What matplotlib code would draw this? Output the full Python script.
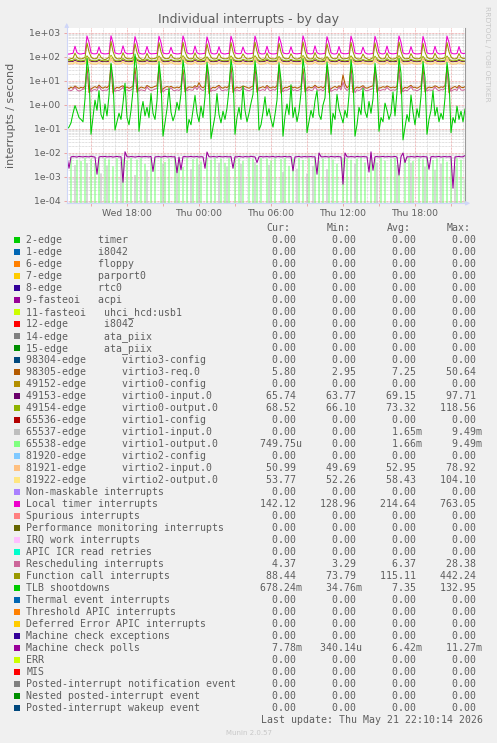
import matplotlib
matplotlib.use('Agg')
import matplotlib.pyplot as plt
import matplotlib.dates as mdates
from matplotlib.patches import Rectangle
from matplotlib.ticker import LogLocator, FuncFormatter, NullFormatter
import numpy as np
import pandas as pd

W, H = 497, 743
FG = '#5e5e5e'

# 10 minute samples, Wed 13:00 -> Thu 22:10
times = pd.date_range('2026-05-20 13:00', periods=200, freq='10min')

# each row = 2 hours (12 samples), last row partial
local_timer = [
    [134, 132, 138, 141, 280, 152, 136, 133, 139, 142, 748, 410],
    [151, 137, 135, 140, 265, 148, 138, 134, 137, 140, 763, 395],
    [149, 139, 134, 142, 290, 155, 137, 136, 138, 143, 705, 380],
    [147, 136, 133, 139, 275, 150, 135, 137, 140, 141, 730, 400],
    [150, 138, 136, 141, 255, 146, 139, 134, 136, 144, 752, 420],
    [152, 137, 135, 140, 285, 151, 136, 135, 138, 142, 690, 370],
    [148, 136, 134, 143, 270, 149, 137, 133, 139, 141, 735, 405],
    [150, 138, 137, 140, 262, 153, 135, 136, 138, 143, 745, 390],
    [149, 135, 134, 139, 280, 150, 137, 134, 136, 140, 712, 385],
    [151, 139, 136, 142, 268, 147, 138, 135, 139, 142, 758, 415],
    [148, 137, 135, 140, 290, 152, 136, 134, 137, 141, 702, 375],
    [150, 136, 133, 141, 275, 149, 139, 136, 138, 144, 738, 400],
    [147, 138, 136, 139, 260, 151, 135, 133, 137, 140, 725, 392],
    [152, 137, 134, 142, 284, 148, 138, 135, 139, 143, 750, 410],
    [149, 136, 135, 140, 270, 150, 137, 134, 136, 141, 718, 388],
    [150, 138, 136, 139, 278, 152, 136, 135, 138, 142, 742, 402],
    [151, 137, 135, 140, 272, 149, 139, 142.12],
]
function_call = [
    [84, 78, 86, 88, 145, 98, 85, 83, 87, 95, 380, 165],
    [102, 86, 84, 89, 138, 96, 84, 76, 86, 97, 442, 170],
    [100, 85, 83, 87, 150, 99, 86, 84, 85, 94, 360, 155],
    [98, 84, 74, 88, 142, 95, 83, 85, 87, 96, 395, 162],
    [101, 86, 85, 89, 130, 94, 85, 83, 84, 98, 410, 168],
    [103, 85, 84, 87, 148, 97, 84, 77, 86, 95, 350, 150],
    [99, 84, 83, 88, 140, 96, 86, 84, 85, 94, 400, 165],
    [100, 86, 85, 90, 135, 98, 83, 84, 87, 96, 415, 172],
    [97, 83, 78, 86, 146, 95, 85, 83, 84, 93, 370, 158],
    [101, 85, 84, 88, 137, 97, 84, 82, 86, 97, 425, 175],
    [98, 84, 83, 87, 152, 99, 86, 84, 79, 95, 355, 152],
    [100, 86, 84, 89, 141, 96, 83, 85, 87, 94, 405, 166],
    [97, 84, 82, 86, 133, 95, 85, 76, 84, 93, 385, 160],
    [102, 85, 83, 88, 147, 98, 84, 82, 86, 96, 420, 170],
    [99, 84, 85, 87, 139, 96, 86, 84, 85, 94, 375, 158],
    [100, 86, 84, 89, 144, 97, 83, 85, 87, 95, 398, 164],
    [101, 85, 83, 88, 140, 96, 87, 88.44],
]
virtio0_output = [
    [70, 69, 71, 72, 84, 74, 70, 69, 71, 74, 112, 86],
    [72, 70, 69, 71, 80, 73, 70, 68, 70, 73, 118.56, 88],
    [71, 69, 70, 72, 86, 75, 69, 70, 71, 74, 105, 82],
    [72, 70, 69, 71, 82, 73, 70, 69, 70, 73, 110, 85],
    [71, 69, 70, 72, 78, 72, 69, 68, 70, 74, 114, 87],
    [72, 70, 69, 71, 85, 74, 70, 69, 71, 73, 102, 80],
    [71, 69, 70, 72, 81, 73, 69, 70, 70, 74, 111, 85],
    [72, 70, 69, 71, 79, 74, 70, 68, 71, 73, 113, 86],
    [71, 69, 70, 72, 84, 73, 69, 69, 70, 73, 106, 83],
    [72, 70, 69, 71, 80, 72, 70, 70, 71, 74, 116, 88],
    [71, 69, 70, 72, 86, 75, 69, 68, 70, 73, 104, 81],
    [72, 70, 69, 71, 82, 73, 70, 69, 71, 74, 112, 86],
    [71, 69, 70, 72, 78, 72, 69, 70, 70, 73, 108, 84],
    [72, 70, 69, 71, 85, 74, 70, 68, 71, 74, 115, 87],
    [71, 69, 70, 72, 81, 73, 69, 69, 70, 73, 107, 83],
    [72, 70, 69, 71, 83, 74, 70, 70, 71, 74, 110, 85],
    [71, 69, 70, 72, 80, 73, 69, 68.52],
]
virtio0_input = [
    [65, 64, 66, 65, 73, 67, 65, 64, 65, 67, 90, 74],
    [66, 65, 64, 65, 72, 66, 64, 65, 64, 66, 97.71, 76],
    [65, 64, 65, 66, 74, 67, 65, 64, 65, 67, 86, 72],
    [66, 65, 64, 65, 71, 66, 65, 64, 65, 66, 92, 75],
    [65, 64, 65, 66, 73, 67, 64, 65, 64, 67, 94, 76],
    [66, 65, 64, 65, 74, 66, 65, 64, 65, 66, 85, 71],
    [65, 64, 65, 66, 72, 67, 65, 64, 65, 67, 91, 74],
    [66, 65, 64, 65, 71, 66, 64, 65, 64, 66, 93, 75],
    [65, 64, 65, 66, 73, 67, 65, 64, 65, 67, 87, 72],
    [66, 65, 64, 65, 72, 66, 65, 64, 65, 66, 95, 76],
    [65, 64, 65, 66, 74, 67, 64, 65, 64, 67, 86, 71],
    [66, 65, 64, 65, 73, 66, 65, 64, 65, 66, 92, 74],
    [65, 64, 65, 66, 71, 67, 65, 64, 65, 67, 89, 73],
    [66, 65, 64, 65, 74, 66, 64, 65, 64, 66, 94, 75],
    [65, 64, 65, 66, 72, 67, 65, 64, 65, 67, 88, 72],
    [66, 65, 64, 65, 73, 66, 65, 64, 65, 66, 91, 74],
    [65, 64, 65, 66, 72, 67, 65, 65.74],
]
virtio2_input = [
    [51, 50, 52, 51, 58, 53, 51, 50, 51, 53, 74, 60],
    [52, 51, 50, 51, 57, 52, 50, 51, 50, 52, 78.92, 61],
    [51, 50, 51, 52, 59, 53, 51, 50, 51, 53, 70, 58],
    [52, 51, 50, 51, 56, 52, 51, 50, 51, 52, 73, 60],
    [51, 50, 51, 52, 58, 53, 50, 51, 50, 53, 76, 61],
    [52, 51, 50, 51, 59, 52, 51, 50, 51, 52, 69, 57],
    [51, 50, 51, 52, 57, 53, 51, 50, 51, 53, 74, 60],
    [52, 51, 50, 51, 56, 52, 50, 51, 50, 52, 75, 60],
    [51, 50, 51, 52, 58, 53, 51, 50, 51, 53, 71, 58],
    [52, 51, 50, 51, 57, 52, 51, 50, 51, 52, 77, 61],
    [51, 50, 51, 52, 59, 53, 50, 51, 50, 53, 70, 57],
    [52, 51, 50, 51, 58, 52, 51, 50, 51, 52, 74, 60],
    [51, 50, 51, 52, 56, 53, 51, 50, 51, 53, 72, 59],
    [52, 51, 50, 51, 59, 52, 50, 51, 50, 52, 76, 61],
    [51, 50, 51, 52, 57, 53, 51, 50, 51, 53, 71, 58],
    [52, 51, 50, 51, 58, 52, 51, 50, 51, 52, 74, 60],
    [51, 50, 51, 52, 57, 53, 51, 50.99],
]
virtio2_output = [
    [56, 55, 57, 56, 66, 58, 56, 55, 56, 58, 96, 68],
    [57, 56, 55, 56, 64, 57, 55, 56, 55, 57, 104.1, 70],
    [56, 55, 56, 57, 67, 58, 56, 55, 56, 58, 88, 65],
    [57, 56, 55, 56, 63, 57, 56, 55, 56, 57, 94, 68],
    [56, 55, 56, 57, 65, 58, 55, 56, 55, 58, 99, 70],
    [57, 56, 55, 56, 67, 57, 56, 55, 56, 57, 86, 64],
    [56, 55, 56, 57, 64, 58, 56, 55, 56, 58, 95, 68],
    [57, 56, 55, 56, 63, 57, 55, 56, 55, 57, 97, 69],
    [56, 55, 56, 57, 66, 58, 56, 55, 56, 58, 90, 66],
    [57, 56, 55, 56, 64, 57, 56, 55, 56, 57, 101, 70],
    [56, 55, 56, 57, 67, 58, 55, 56, 55, 58, 87, 64],
    [57, 56, 55, 56, 65, 57, 56, 55, 56, 57, 96, 68],
    [56, 55, 56, 57, 63, 58, 56, 55, 56, 58, 92, 67],
    [57, 56, 55, 56, 67, 57, 55, 56, 55, 57, 99, 70],
    [56, 55, 56, 57, 64, 58, 56, 55, 56, 58, 91, 66],
    [57, 56, 55, 56, 66, 57, 56, 55, 56, 57, 95, 68],
    [56, 55, 56, 57, 65, 58, 56, 53.77],
]
virtio3_req = [
    [5.2, 4.8, 5.6, 5.0, 6.2, 5.4, 4.9, 5.5, 5.1, 6.0, 38, 3.3],
    [4.6, 5.3, 5.8, 5.2, 6.8, 5.5, 5.0, 5.7, 5.3, 6.4, 50.64, 3.1],
    [4.8, 5.5, 5.1, 5.9, 6.3, 5.2, 5.6, 5.0, 5.4, 6.1, 35, 3.4],
    [4.9, 5.6, 5.3, 5.0, 6.5, 5.8, 5.2, 5.5, 6.0, 6.3, 42, 3.2],
    [4.7, 5.4, 5.9, 5.5, 6.0, 5.3, 5.1, 5.6, 5.2, 6.2, 30, 3.5],
    [5.0, 5.7, 5.5, 5.4, 6.4, 5.6, 8.5, 5.8, 5.2, 6.0, 44, 3.0],
    [4.8, 5.5, 5.2, 5.9, 6.6, 5.4, 5.0, 5.7, 5.3, 6.3, 40, 3.3],
    [4.9, 5.6, 5.1, 5.5, 6.2, 5.8, 5.4, 5.0, 5.6, 6.1, 36, 3.4],
    [5.1, 5.4, 5.8, 5.2, 6.5, 5.5, 5.1, 5.7, 5.3, 6.4, 46, 3.1],
    [4.7, 5.5, 5.3, 5.9, 6.1, 5.2, 5.6, 5.0, 5.4, 6.0, 33, 3.5],
    [5.0, 5.7, 5.2, 5.5, 6.7, 5.6, 5.3, 5.8, 5.1, 6.2, 41, 3.2],
    [4.8, 5.4, 5.9, 5.3, 6.3, 5.5, 18, 7.5, 5.2, 6.1, 39, 3.3],
    [4.9, 5.6, 5.2, 5.7, 6.4, 5.3, 5.0, 5.5, 5.9, 6.3, 37, 3.4],
    [5.1, 5.3, 5.8, 5.4, 6.2, 5.7, 5.2, 5.6, 5.3, 6.0, 43, 3.0],
    [4.7, 5.5, 5.1, 5.9, 6.6, 5.4, 5.5, 5.0, 5.6, 6.2, 34, 3.5],
    [5.0, 5.6, 5.3, 5.5, 6.3, 5.8, 5.1, 5.7, 5.4, 6.4, 40, 3.2],
    [4.8, 5.4, 5.9, 5.2, 6.5, 5.5, 5.3, 5.8],
]
rescheduling = [
    [4.0, 4.3, 3.9, 4.4, 5.6, 4.2, 3.8, 4.1, 4.5, 4.8, 22, 7.5],
    [3.6, 4.2, 4.4, 4.0, 6.0, 4.3, 3.9, 4.2, 4.1, 4.9, 28.38, 8.0],
    [3.7, 4.1, 4.0, 4.5, 5.5, 4.0, 4.3, 3.9, 4.2, 4.7, 20, 7.0],
    [3.8, 4.3, 4.1, 3.9, 5.8, 4.4, 4.0, 4.2, 4.6, 4.8, 24, 7.8],
    [3.5, 4.2, 4.5, 4.2, 5.3, 4.1, 3.9, 4.3, 4.0, 4.7, 19, 6.8],
    [3.9, 4.4, 4.2, 4.1, 5.7, 4.3, 6.0, 4.4, 4.0, 4.6, 25, 8.2],
    [3.7, 4.2, 4.0, 4.5, 5.9, 4.2, 3.9, 4.3, 4.1, 4.8, 23, 7.4],
    [3.8, 4.3, 3.9, 4.2, 5.5, 4.4, 4.1, 3.9, 4.3, 4.7, 21, 7.1],
    [3.9, 4.1, 4.4, 4.0, 5.8, 4.2, 3.9, 4.4, 4.1, 4.9, 26, 8.0],
    [3.6, 4.2, 4.1, 4.5, 5.4, 4.0, 4.3, 3.9, 4.2, 4.6, 20, 6.9],
    [3.8, 4.4, 4.0, 4.2, 6.0, 4.3, 4.1, 4.4, 3.9, 4.7, 24, 7.6],
    [3.7, 4.1, 4.5, 4.1, 5.6, 4.2, 9.0, 5.0, 4.0, 4.7, 22, 7.3],
    [3.29, 4.3, 4.0, 4.4, 5.7, 4.1, 3.9, 4.2, 4.5, 4.8, 21, 7.2],
    [3.9, 4.1, 4.4, 4.2, 5.5, 4.4, 4.0, 4.3, 4.1, 4.6, 25, 7.9],
    [3.6, 4.2, 3.9, 4.5, 5.9, 4.2, 4.2, 3.9, 4.3, 4.8, 20, 7.0],
    [3.8, 4.3, 4.1, 4.2, 5.6, 4.4, 3.9, 4.4, 4.2, 4.9, 23, 7.5],
    [3.7, 4.2, 4.5, 4.0, 5.8, 4.2, 4.1, 4.37],
]
tlb_shootdowns = [
    [0.10, 0.12, 0.18, 0.45, 0.95, 0.55, 0.30, 0.25, 0.20, 1.8, 90, 20],
    [0.06, 0.30, 1.60, 0.60, 4.0, 0.40, 0.25, 1.10, 0.35, 2.5, 55, 12],
    [0.09, 0.20, 0.45, 0.25, 1.20, 8.0, 0.30, 0.15, 0.60, 4.0, 132.95, 25],
    [0.08, 0.50, 1.40, 0.35, 0.80, 0.30, 3.0, 0.45, 0.25, 1.5, 65, 10],
    [0.05, 0.18, 0.70, 5.0, 0.50, 0.22, 0.40, 1.30, 0.60, 3.0, 75, 18],
    [0.07, 0.25, 0.15, 0.60, 2.5, 0.45, 0.20, 0.90, 0.30, 2.2, 60, 15],
    [0.04, 0.12, 0.35, 3.0, 0.40, 0.18, 0.55, 0.25, 0.75, 4.5, 80, 22],
    [0.06, 0.30, 0.80, 0.25, 6.0, 0.60, 0.20, 0.45, 1.20, 2.8, 70, 14],
    [0.09, 0.15, 0.50, 2.2, 0.35, 0.70, 0.25, 0.12, 0.40, 1.6, 58, 11],
    [0.05, 0.35, 1.10, 0.40, 7.0, 0.30, 0.80, 0.20, 0.55, 3.2, 85, 20],
    [0.07, 0.20, 0.60, 0.30, 1.50, 4.0, 0.40, 0.25, 1.00, 2.0, 62, 13],
    [0.06, 0.45, 0.25, 2.8, 0.70, 0.35, 0.18, 0.60, 0.30, 2.6, 78, 17],
    [0.05, 0.15, 0.80, 0.40, 5.0, 0.55, 0.30, 1.40, 0.45, 1.8, 55, 10],
    [0.08, 0.30, 0.20, 1.20, 0.60, 0.25, 0.45, 3.5, 0.35, 3.5, 88, 21],
    [0.035, 0.12, 0.40, 0.20, 2.6, 0.50, 0.15, 0.70, 0.30, 2.4, 66, 14],
    [0.06, 0.25, 0.60, 4.0, 0.35, 0.80, 0.20, 0.45, 0.25, 2.0, 60, 12],
    [0.07, 0.30, 0.18, 0.90, 0.25, 0.55, 0.20, 0.678],
]
# milli-interrupts per second, rows of 20 samples
mc_polls_m = [
    [7.0, 2.3, 6.9, 7.1, 7.0, 6.8, 7.2, 7.0, 6.9, 7.1, 7.0, 6.9, 7.3, 7.0, 6.8, 1.3, 6.9, 7.1, 7.0, 7.2],
    [6.9, 7.0, 7.1, 6.8, 7.0, 7.2, 6.9, 7.0, 0.6, 11.27, 7.0, 6.9, 7.1, 7.0, 6.8, 7.0, 7.2, 6.9, 7.0, 7.1],
    [7.0, 6.9, 7.2, 1.7, 6.9, 7.0, 7.1, 6.8, 7.0, 7.3, 6.9, 7.0, 7.1, 6.9, 7.0, 1.5, 6.8, 2.0, 7.0, 7.1],
    [6.9, 7.0, 7.2, 6.9, 7.0, 7.1, 6.8, 7.0, 6.9, 2.3, 11.0, 7.0, 6.9, 7.1, 7.0, 6.8, 7.2, 7.0, 6.9, 7.1],
    [7.0, 6.9, 7.1, 2.3, 7.0, 6.9, 7.2, 7.0, 6.8, 7.1, 7.0, 6.9, 7.3, 7.0, 6.9, 4.0, 7.0, 7.1, 6.9, 7.0],
    [7.1, 6.9, 7.0, 7.2, 6.8, 7.0, 7.1, 6.9, 7.0, 7.2, 6.9, 7.0, 7.1, 1.8, 6.9, 7.0, 7.2, 6.8, 7.0, 7.1],
    [6.9, 7.0, 7.1, 6.9, 7.0, 1.3, 10.0, 7.0, 6.9, 7.1, 7.0, 6.8, 7.2, 7.0, 6.9, 7.1, 7.0, 6.9, 0.5, 10.0],
    [7.0, 6.9, 7.1, 7.0, 6.8, 7.2, 7.0, 6.9, 7.1, 7.0, 6.9, 1.6, 11.2, 1.9, 7.0, 7.1, 6.9, 7.0, 7.2, 6.9],
    [7.0, 7.1, 6.9, 7.0, 7.2, 6.8, 1.2, 7.0, 10.0, 4.0, 7.0, 6.9, 7.1, 7.0, 6.8, 7.2, 7.0, 6.9, 7.1, 7.0],
    [6.9, 2.1, 7.0, 7.1, 6.9, 7.0, 7.2, 6.8, 7.0, 7.1, 6.9, 7.0, 7.1, 0.34, 6.9, 7.0, 7.2, 6.9, 7.0, 7.78],
]
virtio1_output_m = [
    [5.8, 0, 6.0, 0, 0, 5.2, 0, 4.6, 0, 6.1, 0, 0, 5.5, 0, 3.8, 0, 5.9, 0, 0, 6.0],
    [0, 5.4, 0, 2.8, 0, 6.0, 0, 0, 5.7, 0, 4.9, 0, 6.1, 0, 0, 5.3, 0, 6.0, 0, 3.5],
    [0, 0, 5.9, 0, 5.6, 0, 0, 6.0, 0, 4.2, 0, 5.8, 0, 0, 6.1, 0, 5.0, 0, 2.6, 0],
    [6.0, 0, 0, 5.5, 0, 5.9, 0, 4.4, 0, 0, 6.0, 0, 5.2, 0, 6.1, 0, 0, 5.7, 0, 3.9],
    [0, 6.0, 0, 0, 5.4, 0, 5.9, 0, 4.7, 0, 0, 6.1, 0, 5.6, 0, 3.2, 0, 6.0, 0, 0],
    [5.8, 0, 4.9, 0, 6.0, 0, 0, 5.5, 0, 6.1, 0, 2.9, 0, 5.7, 0, 0, 6.0, 0, 5.1, 0],
    [0, 5.9, 0, 0, 6.0, 0, 4.5, 0, 5.8, 0, 0, 6.1, 0, 5.3, 0, 3.6, 0, 0, 5.9, 0],
    [6.0, 0, 5.2, 0, 0, 5.7, 0, 6.1, 0, 4.0, 0, 0, 5.9, 0, 5.5, 0, 0, 6.0, 0, 4.8],
    [0, 0, 5.6, 0, 6.1, 0, 3.3, 0, 0, 5.8, 0, 6.0, 0, 4.6, 0, 0, 5.9, 0, 5.4, 0],
    [6.1, 0, 0, 5.0, 0, 5.9, 0, 0, 6.0, 0, 4.3, 0, 5.7, 0, 0, 6.0, 0, 5.2, 0, 0.75],
]
virtio1_input_m = [
    [0, 0, 0, 0, 3.1, 0, 0, 0, 0, 0, 3.8, 0, 0, 0, 0, 0, 0, 1.4, 0, 0],
    [3.0, 0, 0, 0, 0, 0, 0, 4.2, 0, 0, 0, 0, 0, 0, 1.2, 0, 0, 0, 0, 0],
    [1.9, 0, 0, 0, 0, 0, 0, 0, 3.6, 0, 0, 0, 0, 0, 0, 2.9, 0, 0, 0, 0],
    [0, 0, 2.1, 0, 0, 0, 3.3, 0, 0, 0, 0, 0, 0, 0, 0, 0, 3.9, 0, 0, 0],
    [2.7, 0, 0, 0, 0, 0, 0, 3.5, 0, 0, 0, 0, 0, 0, 4.1, 0, 0, 0, 0, 0],
    [0, 3.2, 0, 0, 0, 0, 0, 0, 1.6, 0, 0, 0, 0, 0, 0, 2.2, 0, 0, 0, 0],
    [1.4, 0, 0, 2.9, 0, 0, 0, 0, 0, 0, 2.1, 0, 0, 0, 0, 0, 0, 0, 0, 0],
    [0, 0, 0, 0, 3.6, 0, 0, 0, 0, 0, 0, 0, 0, 0, 0, 4.0, 0, 0, 0, 0],
    [0, 0, 0, 0, 0, 3.1, 0, 0, 0, 0, 0, 0, 3.9, 0, 0, 0, 0, 0, 0, 2.7],
    [0, 0, 0, 0, 2.0, 0, 0, 3.6, 0, 0, 0, 0, 0, 0, 2.9, 0, 0, 0, 0, 0],
]

# legend table
names = [
    '2-edge      timer', '1-edge      i8042', '6-edge      floppy', '7-edge      parport0',
    '8-edge      rtc0', '9-fasteoi   acpi', '11-fasteoi   uhci_hcd:usb1', '12-edge      i8042',
    '14-edge      ata_piix', '15-edge      ata_piix', '98304-edge      virtio3-config',
    '98305-edge      virtio3-req.0', '49152-edge      virtio0-config', '49153-edge      virtio0-input.0',
    '49154-edge      virtio0-output.0', '65536-edge      virtio1-config', '65537-edge      virtio1-input.0',
    '65538-edge      virtio1-output.0', '81920-edge      virtio2-config', '81921-edge      virtio2-input.0',
    '81922-edge      virtio2-output.0', 'Non-maskable interrupts', 'Local timer interrupts',
    'Spurious interrupts', 'Performance monitoring interrupts', 'IRQ work interrupts',
    'APIC ICR read retries', 'Rescheduling interrupts', 'Function call interrupts', 'TLB shootdowns',
    'Thermal event interrupts', 'Threshold APIC interrupts', 'Deferred Error APIC interrupts',
    'Machine check exceptions', 'Machine check polls', 'ERR', 'MIS',
    'Posted-interrupt notification event', 'Nested posted-interrupt event', 'Posted-interrupt wakeup event',
]
colors = [
    '#00CC00', '#0066B3', '#FF8000', '#FFCC00', '#330099', '#990099', '#CCFF00', '#FF0000', '#808080',
    '#008F00', '#00487D', '#B35A00', '#B38F00', '#6B006B', '#8FB300', '#B30000', '#BEBEBE', '#80FF80',
    '#80C9FF', '#FFC080', '#FFE680', '#AA80FF', '#EE00CC', '#FF8080', '#666600', '#FFBFFF', '#00FFCC',
    '#CC6699', '#999900', '#00CC00', '#0066B3', '#FF8000', '#FFCC00', '#330099', '#990099', '#CCFF00',
    '#FF0000', '#808080', '#008F00', '#00487D',
]
Z = '0.00'
cur = [Z] * 11 + ['5.80', Z, '65.74', '68.52', Z, Z, '749.75u', Z, '50.99', '53.77', Z, '142.12', Z, Z, Z, Z,
                  '4.37', '88.44', '678.24m', Z, Z, Z, Z, '7.78m', Z, Z, Z, Z, Z]
mins = [Z] * 11 + ['2.95', Z, '63.77', '66.10', Z, Z, Z, Z, '49.69', '52.26', Z, '128.96', Z, Z, Z, Z,
                   '3.29', '73.79', '34.76m', Z, Z, Z, Z, '340.14u', Z, Z, Z, Z, Z]
avgs = [Z] * 11 + ['7.25', Z, '69.15', '73.32', Z, '1.65m', '1.66m', Z, '52.95', '58.43', Z, '214.64', Z, Z,
                   Z, Z, '6.37', '115.11', '7.35', Z, Z, Z, Z, '6.42m', Z, Z, Z, Z, Z]
maxs = [Z] * 11 + ['50.64', Z, '97.71', '118.56', Z, '9.49m', '9.49m', Z, '78.92', '104.10', Z, '763.05', Z,
                   Z, Z, Z, '28.38', '442.24', '132.95', Z, Z, Z, Z, '11.27m', Z, Z, Z, Z, Z]
headers = ['Cur:', 'Min:', 'Avg:', 'Max:']

flat = lambda rows: np.concatenate([np.asarray(r, dtype=float) for r in rows])

# drawn in munin order (legend index -> data, line width)
plotted = [
    (11, flat(virtio3_req), 0.75),
    (13, flat(virtio0_input), 0.75),
    (14, flat(virtio0_output), 0.75),
    (16, flat(virtio1_input_m) / 1000, 0.42),
    (17, flat(virtio1_output_m) / 1000, 0.42),
    (19, flat(virtio2_input), 0.75),
    (20, flat(virtio2_output), 0.75),
    (22, flat(local_timer), 0.75),
    (27, flat(rescheduling), 0.75),
    (28, flat(function_call), 0.75),
    (29, flat(tlb_shootdowns), 0.75),
    (34, flat(mc_polls_m) / 1000, 0.75),
]

fig = plt.figure(figsize=(W / 100, H / 100), dpi=100, facecolor='#f0f0f0')
ax_l, ax_r, ax_t, ax_b = 66.7, 465.0, 28.0, 203.3
ax = fig.add_axes([ax_l / W, 1 - ax_b / H, (ax_r - ax_l) / W, (ax_b - ax_t) / H])
ax.set_facecolor('white')
ax.set_yscale('log', nonpositive='clip')

for idx, vals, lw in plotted:
    ax.plot(times, vals, color=colors[idx], lw=lw)

ax.set_xlim(pd.Timestamp('2026-05-20 12:58:30'), pd.Timestamp('2026-05-21 22:10'))
ax.set_ylim(10 ** -4.096, 10 ** 3.208)

ax.xaxis.set_major_locator(mdates.HourLocator(byhour=range(0, 24, 3)))
ax.xaxis.set_minor_locator(mdates.HourLocator(interval=1))


def xfmt(v, pos):
    d = mdates.num2date(v)
    return d.strftime('%a %H:%M') if d.hour % 6 == 0 else ''


ax.xaxis.set_major_formatter(FuncFormatter(xfmt))
ax.yaxis.set_major_locator(LogLocator(base=10, numticks=20))
ax.yaxis.set_minor_locator(LogLocator(base=10, subs=np.arange(2, 10), numticks=20))
ax.yaxis.set_major_formatter(FuncFormatter(lambda v, p: f'{v:.0e}'))
ax.yaxis.set_minor_formatter(NullFormatter())

dots = (0, (0.72, 0.72))
ax.set_axisbelow(True)
ax.grid(which='minor', color='#d6d6d6', linestyle=dots, lw=0.72)
ax.grid(which='major', color='#eba5a5', linestyle=dots, lw=0.72)

ax.tick_params(which='major', length=2, width=0.7, color='#eba5a5', labelsize=6.7, labelcolor=FG, pad=2)
ax.tick_params(which='minor', length=0)
ax.tick_params(axis='y', pad=2.5)

ax.spines['top'].set_visible(False)
ax.spines['right'].set_color('#9a9a9a')
ax.spines['left'].set_color('#cfd6f8')
ax.spines['bottom'].set_color('#cfd6f8')
ax.annotate('', xy=(0, 1.045), xytext=(0, 0.99), xycoords='axes fraction',
            arrowprops=dict(arrowstyle='-|>', color='#cfd6f8', lw=0.8, mutation_scale=6))
ax.annotate('', xy=(1.02, 0), xytext=(0.99, 0), xycoords='axes fraction',
            arrowprops=dict(arrowstyle='-|>', color='#cfd6f8', lw=0.8, mutation_scale=6))

# texts
fig.text(0.5, 1 - 23.3 / H, 'Individual interrupts - by day', ha='center', va='baseline', size=9, color=FG)
fig.text(11 / W, 1 - 115 / H, 'interrupts / second', rotation=90, ha='center', va='center', size=8, color=FG)
fig.text(487 / W, 1 - 53.5 / H, 'RRDTOOL / TOBI OETIKER', rotation=270, ha='center', va='center',
         size=5.4, color='#c8c8c8')

mono = dict(family='DejaVu Sans Mono', size=7.1, color=FG, va='baseline', ha='left')
x0 = 26.3
cw = 6.003
for k, h in enumerate(headers):
    fig.text((x0 + (40 + 10 * k) * cw) / W, 1 - 231 / H, h, **mono)


def cell(s):
    return s if s[-1].isalpha() else s + ' '


for i, name in enumerate(names):
    yb = 243.4 + 12 * i
    fig.text(x0 / W, 1 - yb / H, name, **mono)
    vals = ''.join(f'{cell(v):>10}' for v in (cur[i], mins[i], avgs[i], maxs[i]))
    fig.text((x0 + 36 * cw) / W, 1 - yb / H, vals, **mono)
    fig.patches.append(Rectangle((14 / W, 1 - (yb - 0.7) / H), 6 / W, 6 / H, transform=fig.transFigure,
                                 facecolor=colors[i], edgecolor='none'))

fig.text(483 / W, 1 - 723.3 / H, 'Last update: Thu May 21 22:10:14 2026',
         **{**mono, 'ha': 'right'})
fig.text(0.5, 1 - 735 / H, 'Munin 2.0.57', ha='center', va='baseline', size=5, color='#c8c8c8')

fig.savefig('out.png', dpi=100, facecolor=fig.get_facecolor())
